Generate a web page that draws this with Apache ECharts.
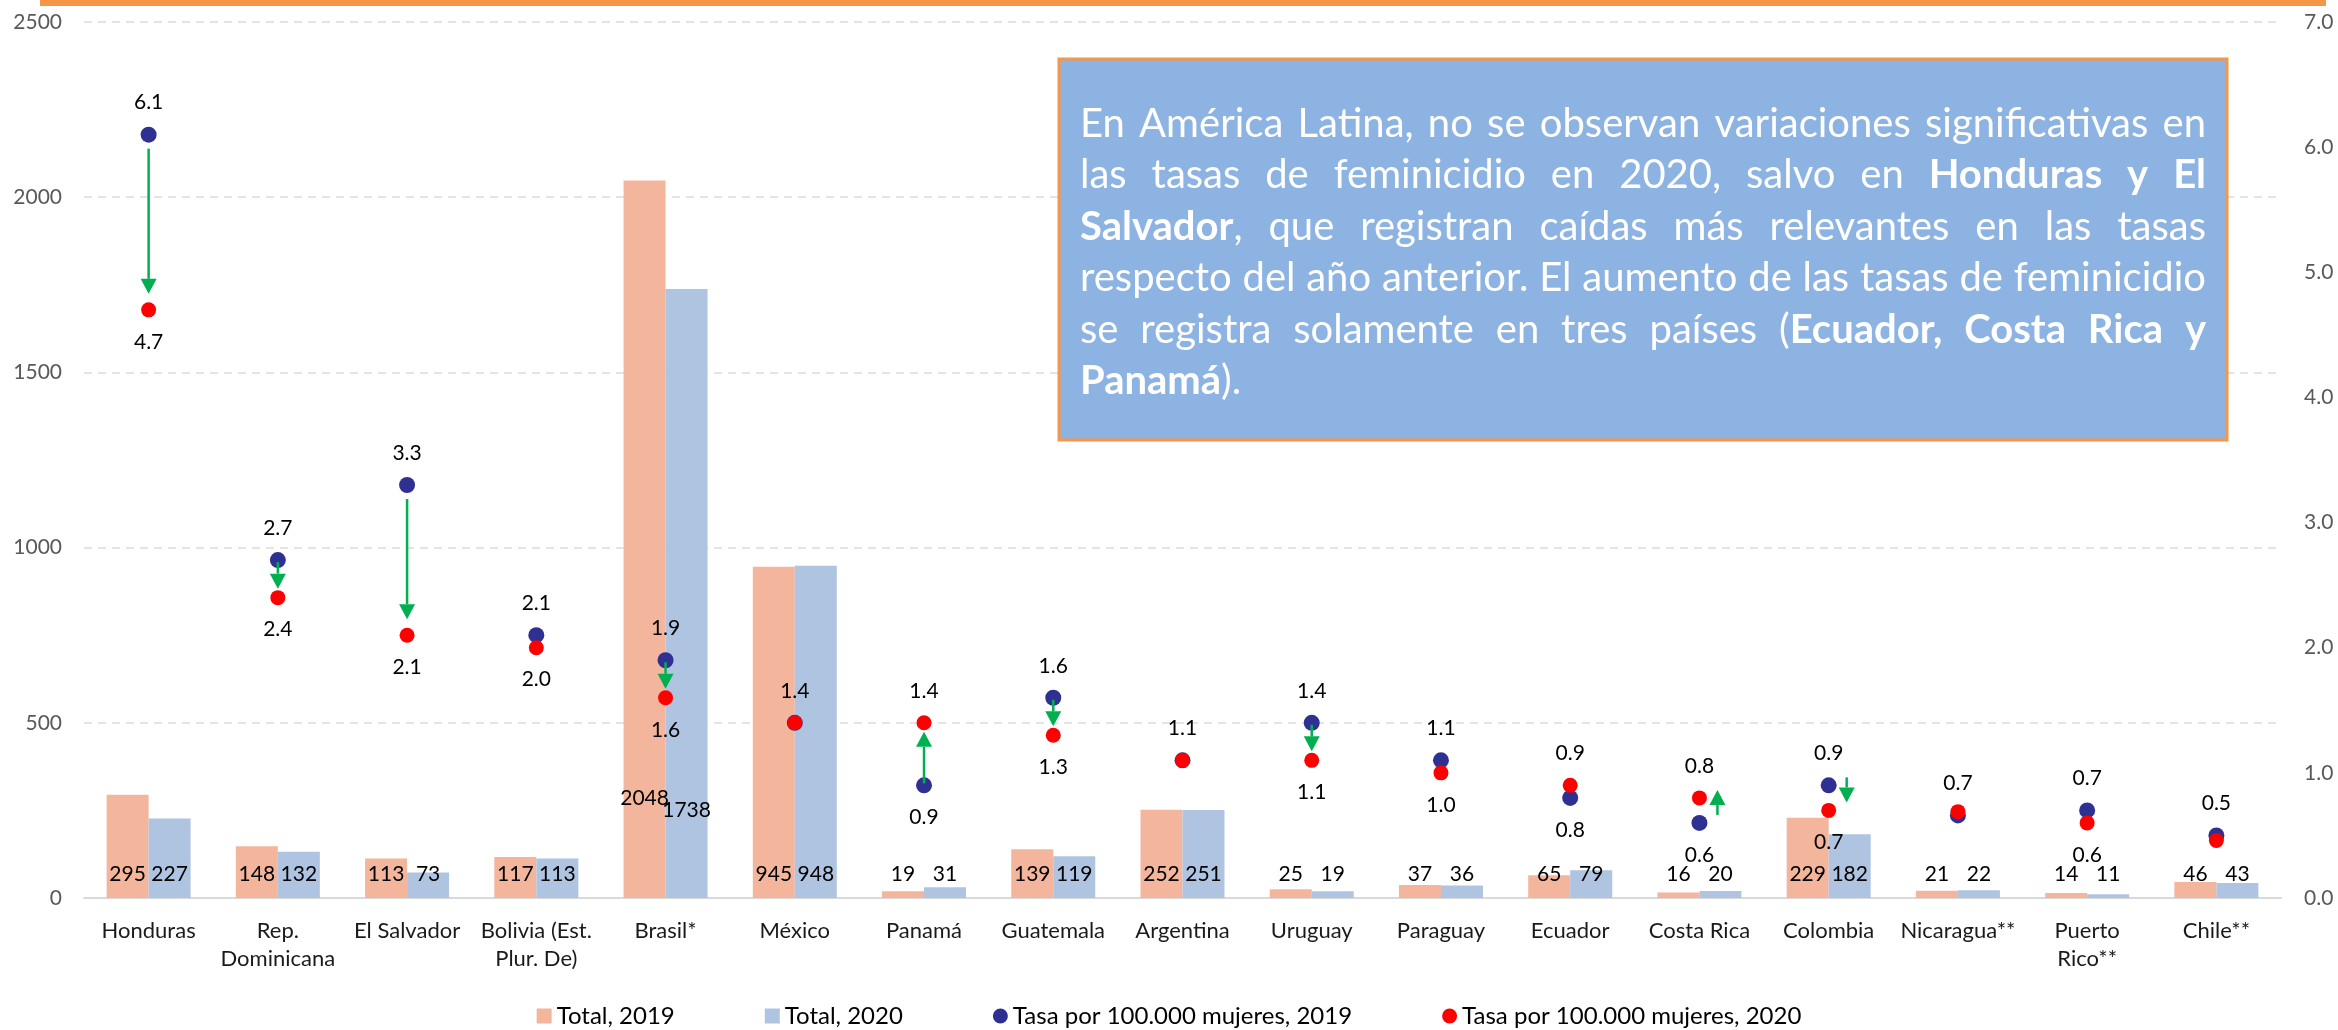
<!DOCTYPE html>
<html>
<head>
<meta charset="utf-8">
<script src="https://cdn.jsdelivr.net/npm/echarts/dist/echarts.min.js"></script>
<style>html,body{margin:0;padding:0;background:#fff}#chart{width:2338px;height:1030px}</style>
</head>
<body>
<div id="chart"></div>
<script>
// ---- data ----
const categories = ['Honduras','Rep.\nDominicana','El Salvador','Bolivia (Est.\nPlur. De)','Brasil*','México','Panamá','Guatemala','Argentina','Uruguay','Paraguay','Ecuador','Costa Rica','Colombia','Nicaragua**','Puerto\nRico**','Chile**'];
const total2019 = [295,148,113,117,2048,945,19,139,252,25,37,65,16,229,21,14,46];
const total2020 = [227,132,73,113,1738,948,31,119,251,19,36,79,20,182,22,11,43];
const rate2019 = [6.1,2.7,3.3,2.1,1.9,1.4,0.9,1.6,1.1,1.4,1.1,0.8,0.6,0.9,0.66,0.7,0.5];
const rate2020 = [4.7,2.4,2.1,2.0,1.6,1.4,1.4,1.3,1.1,1.1,1.0,0.9,0.8,0.7,0.69,0.6,0.46];
const arrowCategories = ['Honduras','Rep.\nDominicana','El Salvador','Brasil*','Panamá','Guatemala','Uruguay','Costa Rica','Colombia'];
const seriesNames = ['Total, 2019','Total, 2020','Tasa por 100.000 mujeres, 2019','Tasa por 100.000 mujeres, 2020'];
const leftAxisTicks = [0,500,1000,1500,2000,2500];
const rightAxisTicks = [0,1,2,3,4,5,6,7];
const noteLines = [
  [['En América Latina, no se observan variaciones significativas en',0]],
  [['las tasas de feminicidio en 2020, salvo en ',0],['Honduras y El',1]],
  [['Salvador',1],[', que registran caídas más relevantes en las tasas',0]],
  [['respecto del año anterior. El aumento de las tasas de feminicidio',0]],
  [['se registra solamente en tres países (',0],['Ecuador, Costa Rica y',1]],
  [['Panamá',1],[').',0]]
];

// ---- styling ----
const FONT = 'Lato';
const C_OR = '#F3B69C', C_BL = '#AFC4E0', C_NAVY = '#2E3192', C_RED = '#FF0000', C_GREEN = '#00B050';

const chart = echarts.init(document.getElementById('chart'), null, {renderer:'canvas'});

// justified note text
const BOX = {x:1059, y:59, w:1168, h:381};
const TXT = {x:1080, w:1126, y0:124, lh:51.4};
const ctx = document.createElement('canvas').getContext('2d');
function fontStr(b, fs){ return (b?'bold ':'') + fs + 'px ' + FONT; }
function wordsOf(line){
  const words = []; let cur = [];
  line.forEach(([t,b]) => {
    const parts = t.split(' ');
    parts.forEach((p,k) => {
      if (k > 0) { if (cur.length) words.push(cur); cur = []; }
      if (p.length) cur.push([p,b]);
    });
  });
  if (cur.length) words.push(cur);
  return words;
}
function measure(seg, fs){ ctx.font = fontStr(seg[1], fs); return ctx.measureText(seg[0]).width; }
let fs = 34;
(function(){
  ctx.font = fontStr(0, fs);
  const w = ctx.measureText(noteLines[3].map(s=>s[0]).join('')).width;
  fs = Math.floor(fs * (TXT.w - 4) / w * 10) / 10;
})();
const noteGraphics = [];
noteLines.forEach((line, li) => {
  const words = wordsOf(line);
  const ww = words.map(w => w.reduce((a,s)=>a+measure(s,fs),0));
  const sum = ww.reduce((a,b)=>a+b,0);
  ctx.font = fontStr(0, fs);
  const sp = ctx.measureText(' ').width;
  const last = li === noteLines.length - 1;
  const gap = last ? sp : (TXT.w - sum) / (words.length - 1);
  let x = TXT.x;
  const y = TXT.y0 + li * TXT.lh;
  words.forEach((w, wi) => {
    w.forEach(seg => {
      noteGraphics.push({type:'text', x:x, y:y, z:101, silent:true,
        style:{text:seg[0], font:fontStr(seg[1], fs), fill:'#FFFFFF', align:'left', verticalAlign:'middle', textAlign:'left', textVerticalAlign:'middle'}});
      x += measure(seg, fs);
    });
    x += gap;
  });
});

const brazilIdx = categories.indexOf('Brasil*');
function barData(vals, dy){
  return vals.map((v,i) => i === brazilIdx ? {value:v, label:{offset:[0,dy]}} : v);
}
function dotData(rates, other, isBlue){
  return rates.map((v,i) => {
    const o = other[i];
    const same = v.toFixed(1) === o.toFixed(1);
    let show = true, dy;
    if (same) { if (!isBlue) show = false; dy = -32; }
    else dy = v > o ? -32 : 32;
    return {value:[i, v], label:{show:show, offset:[0, dy]}};
  });
}
const arrowData = arrowCategories.map(n => { const i = categories.indexOf(n); return [i, rate2019[i], rate2020[i]]; });

const labelStyle = {fontFamily:FONT, fontSize:21, color:'#000'};

const option = {
  animation:false,
  backgroundColor:'#ffffff',
  grid:{left:84, right:57, top:22, bottom:132, containLabel:false},
  legend:{
    data:[{name:seriesNames[0],icon:'rect'},{name:seriesNames[1],icon:'rect'},{name:seriesNames[2],icon:'circle'},{name:seriesNames[3],icon:'circle'}],
    left:'center', top:999, itemWidth:15, itemHeight:15, itemGap:90,
    textStyle:{fontFamily:FONT, fontSize:24, color:'#000'}
  },
  xAxis:{
    type:'category', data:categories,
    axisTick:{show:false},
    axisLine:{lineStyle:{color:'#D9D9D9', width:2}},
    axisLabel:{interval:0, fontFamily:FONT, fontSize:22, color:'#1a1a1a', lineHeight:28, margin:19}
  },
  yAxis:[
    {type:'value', min:leftAxisTicks[0], max:leftAxisTicks[leftAxisTicks.length-1], interval:leftAxisTicks[1]-leftAxisTicks[0],
     axisLine:{show:false}, axisTick:{show:false},
     axisLabel:{fontFamily:FONT, fontSize:21, color:'#595959', margin:22, formatter:v=>String(v)},
     splitLine:{show:true, lineStyle:{color:'#DCDCDC', width:1.5, type:[8,6]}}},
    {type:'value', min:rightAxisTicks[0], max:rightAxisTicks[rightAxisTicks.length-1], interval:rightAxisTicks[1]-rightAxisTicks[0],
     axisLine:{show:false}, axisTick:{show:false},
     axisLabel:{fontFamily:FONT, fontSize:21, color:'#595959', margin:23, formatter:v=>v.toFixed(1)},
     splitLine:{show:false}}
  ],
  series:[
    {type:'bar', name:seriesNames[0], data:barData(total2019,-76), barWidth:42, barGap:'0%', itemStyle:{color:C_OR}, z:2,
     label:Object.assign({show:true, position:'insideBottom', distance:13}, labelStyle)},
    {type:'bar', name:seriesNames[1], data:barData(total2020,-64), barWidth:42, barGap:'0%', itemStyle:{color:C_BL}, z:2,
     label:Object.assign({show:true, position:'insideBottom', distance:13}, labelStyle)},
    {type:'scatter', name:seriesNames[2], yAxisIndex:1, data:dotData(rate2019, rate2020, true), symbolSize:16, itemStyle:{color:C_NAVY, opacity:1}, z:3,
     label:Object.assign({position:'inside', formatter:p=>p.value[1].toFixed(1)}, labelStyle)},
    {type:'scatter', name:seriesNames[3], yAxisIndex:1, data:dotData(rate2020, rate2019, false), symbolSize:15, itemStyle:{color:C_RED, opacity:1}, z:4,
     label:Object.assign({position:'inside', formatter:p=>p.value[1].toFixed(1)}, labelStyle)},
    {type:'custom', name:'arrows', yAxisIndex:1, z:5, silent:true, data:arrowData,
     renderItem:(params, api) => {
       const i = api.value(0);
       const p1 = api.coord([i, api.value(1)]), p2 = api.coord([i, api.value(2)]);
       let x = p1[0];
       const dy = p2[1] - p1[1], dir = Math.sign(dy), d = Math.abs(dy);
       let y1, y2;
       if (d < 30) { x += 18; y1 = p1[1] - 8; y2 = p2[1] - 8; }
       else if (d > 100) { y1 = p1[1] + dir*14; y2 = p2[1] - dir*16; }
       else { y1 = p1[1] + dir*2; y2 = p2[1] - dir*9; }
       const head = 15, hw = 8, yb = y2 - dir*head;
       return {type:'group', children:[
         {type:'line', shape:{x1:x, y1:y1, x2:x, y2:yb}, style:{stroke:C_GREEN, lineWidth:2.5}},
         {type:'polygon', shape:{points:[[x-hw,yb],[x+hw,yb],[x,y2]]}, style:{fill:C_GREEN}}
       ]};
     }}
  ],
  graphic:[
    {type:'rect', z:100, silent:true, shape:{x:40, y:0, width:2286, height:6}, style:{fill:'#F79646'}},
    {type:'rect', z:100, silent:true, shape:{x:BOX.x, y:BOX.y, width:BOX.w, height:BOX.h}, style:{fill:'#8DB3E2', stroke:'#F79646', lineWidth:3}}
  ].concat(noteGraphics)
};
chart.setOption(option);
</script>
</body>
</html>
